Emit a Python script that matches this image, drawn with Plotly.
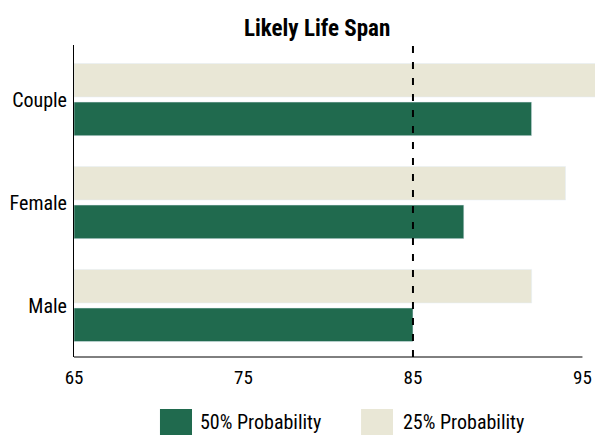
import plotly.graph_objects as go

categories = ["Male", "Female", "Couple"]
prob50 = [85, 88, 92]
prob25 = [92, 94, 96]
x_ticks = [65, 75, 85, 95]
ref_age = 85
series_names = ["50% Probability", "25% Probability"]

FONT = "Liberation Sans Narrow, Roboto Condensed, DejaVu Sans Condensed, Arial Narrow, sans-serif"
GREEN = "#206A4E"
BEIGE = "#E9E7D6"

fig = go.Figure()
fig.add_trace(go.Bar(y=categories, x=[v - x_ticks[0] for v in prob50], base=x_ticks[0],
                     orientation="h", name=series_names[0], marker_color=GREEN))
fig.add_trace(go.Bar(y=categories, x=[v - x_ticks[0] for v in prob25], base=x_ticks[0],
                     orientation="h", name=series_names[1], marker_color=BEIGE))

# reference line
fig.add_shape(type="line", xref="x", yref="paper", x0=ref_age, x1=ref_age, y0=0, y1=1,
              line=dict(color="black", width=2, dash="7px,9px"), layer="above")
# x axis line from first to last tick
fig.add_shape(type="line", xref="x", yref="paper", x0=x_ticks[0], x1=x_ticks[-1], y0=0, y1=0,
              line=dict(color="black", width=1), layer="above")

# custom legend (large swatches)
legend_items = [(series_names[0], GREEN, 0.165, 0.2265, 0.238),
                (series_names[1], BEIGE, 0.551, 0.6123, 0.6276)]
for name, col, sx0, sx1, tx in legend_items:
    fig.add_shape(type="rect", xref="paper", yref="paper", x0=sx0, x1=sx1, y0=-0.167, y1=-0.27,
                  fillcolor=col, line=dict(width=0), layer="above")
    fig.add_annotation(text=name, xref="paper", yref="paper", x=tx, y=-0.209,
                       xanchor="left", yanchor="middle", showarrow=False,
                       font=dict(family=FONT, size=20, color="black"))

fig.update_layout(
    width=595, height=435,
    margin=dict(l=74, r=0, t=45, b=78),
    paper_bgcolor="white", plot_bgcolor="white",
    font=dict(family=FONT, size=20, color="black"),
    title=dict(text="<b>Likely Life Span</b>", x=0.533, xanchor="center", y=0.936, yanchor="middle",
               font=dict(family=FONT, size=23, color="black")),
    barmode="group", bargap=0.25, bargroupgap=0.13,
    showlegend=False,
    xaxis=dict(range=[65, 95.74], tickvals=x_ticks, showgrid=False, zeroline=False,
               showline=False, ticks="", tickfont=dict(size=19), automargin=False,
               ticklabelstandoff=7),
    yaxis=dict(showgrid=False, zeroline=False, showline=True, linecolor="black", linewidth=1,
               ticks="", ticklabelstandoff=2, range=[-0.5, 2.53], automargin=False,
               tickfont=dict(size=20)),
)

fig.write_html("out.html", config={"displayModeBar": False},
               post_script="document.body.style.margin='0';document.body.style.overflow='hidden';")
